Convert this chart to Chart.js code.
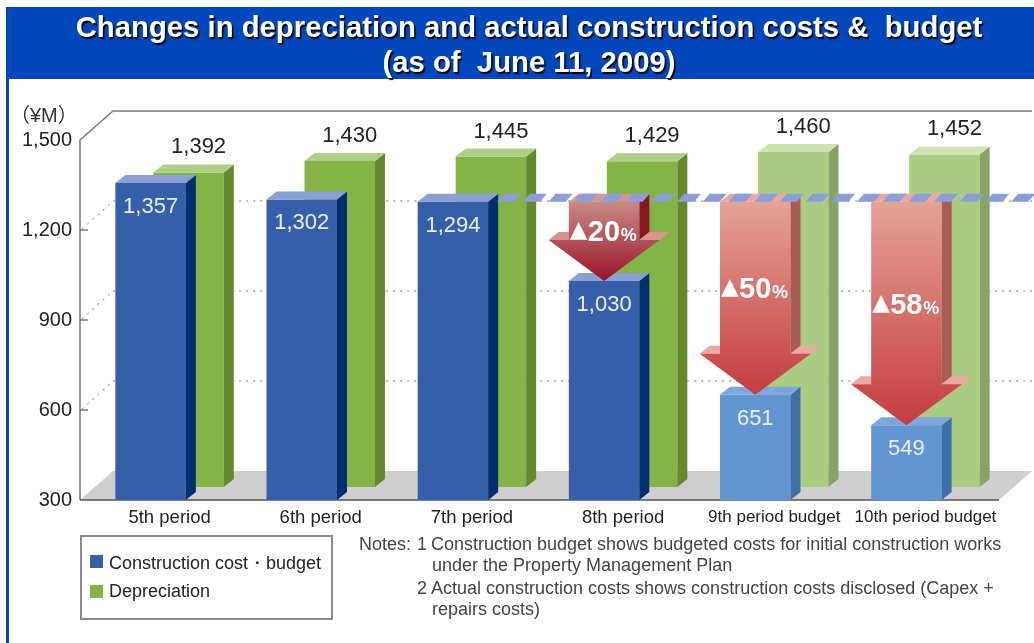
<!DOCTYPE html>
<html>
<head>
<meta charset="utf-8">
<script src="https://cdn.jsdelivr.net/npm/chart.js@4"></script>
<style>
html,body{margin:0;padding:0;background:#fff;overflow:hidden}
#page{position:relative;width:1034px;height:643px;font-family:"Liberation Sans",Arial,sans-serif;filter:blur(.35px)}
#c{position:absolute;left:0;top:0}
#strip{position:absolute;left:6px;top:7px;width:3px;height:636px;background:#0047bb}
#band{position:absolute;left:6px;top:7px;right:0;height:72px;background:#0047bb}
.title{position:absolute;left:0;width:1058px;text-align:center;color:#fff;font-weight:bold;font-size:29.3px;line-height:34px;white-space:pre;text-shadow:1.5px 2px 1px #000}
#unit{position:absolute;left:10px;top:99px;font:20px "Liberation Sans","Noto Sans CJK JP",sans-serif;color:#333;white-space:pre}
#legend{position:absolute;left:80px;top:535px;width:249px;height:81px;border:2px solid #8a8a8a;box-sizing:content-box}
.li{position:absolute;left:8px;font-size:18px;color:#222;white-space:pre}
.sw{position:absolute;left:0;top:4px;width:13px;height:13px}
.li span{position:absolute;left:19px;top:0}
.note{position:absolute;font-size:18px;line-height:20px;color:#444;white-space:pre}
</style>
</head>
<body>
<div id="page">
<div id="strip"></div><div id="band"></div>
<canvas id="c" width="1034" height="643"></canvas>
<div class="title" style="top:10px">Changes in depreciation and actual construction costs &amp;  budget</div>
<div class="title" style="top:45px">(as of  June 11, 2009)</div>
<div id="unit">（¥M）</div>
<div id="legend"></div>
<div class="note" style="left:359px;top:534px">Notes:</div>
<div class="note" style="left:417px;top:534px">1</div>
<div class="note" style="left:431px;top:534px">Construction budget shows budgeted costs for initial construction works</div>
<div class="note" style="left:432px;top:555px">under the Property Management Plan</div>
<div class="note" style="left:417px;top:578px">2</div>
<div class="note" style="left:431px;top:578px">Actual construction costs shows construction costs disclosed (Capex +</div>
<div class="note" style="left:432px;top:599px">repairs costs)</div>
</div>
<script>
const categories = ["5th period","6th period","7th period","8th period","9th period budget","10th period budget"];
const constructionCost = [1357,1302,1294,1030,651,549];
const depreciation = [1392,1430,1445,1429,1460,1452];
const reductionPct = [null,null,null,20,50,58];
const isBudget = [false,false,false,false,true,true];
const referenceCost = 1294;
const yTickStep = 300;
const yMin = 300, yMax = 1500;
const depreciationFloor = 343;
const legendLabels = ["Construction cost・budget","Depreciation"];

const blue = {front:"#3560a9",side:"#022d6e",cap:"#8a9fd2"};
const blueB = {front:"#6296d2",side:"#3d70a9",cap:"#7fa6dd"};
const green = {front:"#84b446",side:"#638a2f",cap:"#aecf87"};
const greenB = {front:"#aacd81",side:"#88a366",cap:"#d0e3b3"};
const DX = 10, DY = 8, BX = 33, BY = 29;

function poly(ctx, pts, fill){
  ctx.beginPath();
  pts.forEach((p,i)=> i? ctx.lineTo(p[0],p[1]) : ctx.moveTo(p[0],p[1]));
  ctx.closePath();
  ctx.fillStyle = fill;
  ctx.fill();
}

const scene = {
  id:"scene",
  beforeDatasetsDraw(chart){
    const ctx = chart.ctx, y = chart.scales.y, yb = y.getPixelForValue(yMin);
    const x0 = 80, x1 = 999;
    ctx.save();
    poly(ctx,[[x0,yb],[x1,yb],[x1+BX,yb-BY],[x0+BX,yb-BY]],"#cfcfcf");
    ctx.strokeStyle="#777"; ctx.lineWidth=1.5;
    ctx.beginPath();
    const top = y.getPixelForValue(yMax);
    ctx.moveTo(x0,yb); ctx.lineTo(x0,top); ctx.lineTo(x0+BX,top-BY); ctx.lineTo(x1+BX,top-BY);
    ctx.stroke();
    ctx.strokeStyle="#555";
    ctx.beginPath(); ctx.moveTo(x0,yb); ctx.lineTo(x1,yb); ctx.stroke();
    y.ticks.forEach(t=>{
      if(t.value===yMin||t.value===yMax) return;
      const py=y.getPixelForValue(t.value);
      ctx.strokeStyle="#555"; ctx.lineWidth=1.2; ctx.setLineDash([]);
      ctx.beginPath(); ctx.moveTo(x0,py); ctx.lineTo(x0+8,py); ctx.stroke();
      ctx.strokeStyle="#777"; ctx.lineWidth=1; ctx.setLineDash([2,5]);
      ctx.beginPath(); ctx.moveTo(x0+2,py-1); ctx.lineTo(x0+BX,py-BY); ctx.lineTo(x1+BX,py-BY); ctx.stroke();
    });
    ctx.restore();
  },
  afterDatasetDraw(chart,args){
    const ctx = chart.ctx, ds = args.index;
    ctx.save();
    args.meta.data.forEach((b,i)=>{
      const c = ds===0 ? (isBudget[i]?blueB:blue) : (isBudget[i]?greenB:green);
      const L=b.x-b.width/2,R=b.x+b.width/2,T=b.y,B=b.base;
      poly(ctx,[[R,T],[R+DX,T-DY],[R+DX,B-DY],[R,B]],c.side);
      poly(ctx,[[L,T],[L+DX,T-DY],[R+DX,T-DY],[R,T]],c.cap);
    });
    ctx.restore();
  },
  afterDatasetsDraw(chart){
    const ctx = chart.ctx, y = chart.scales.y;
    const front = chart.getDatasetMeta(0).data, back = chart.getDatasetMeta(1).data;
    const ry = y.getPixelForValue(referenceCost);
    ctx.save();
    // reduction arrows
    reductionPct.forEach((pct,i)=>{
      if(pct===null) return;
      const b=front[i], L=b.x-b.width/2, R=b.x+b.width/2, tip=b.y, hy=tip-41, hw=55.5;
      const dark=!isBudget[i];
      const g=ctx.createLinearGradient(0,ry,0,tip);
      if(dark){g.addColorStop(0,"#c98a84");g.addColorStop(1,"#991428");}
      else{g.addColorStop(0,"#e5a398");g.addColorStop(1,"#c43c3e");}
      const sideC=dark?"#8a1522":"#aa5b55", capC=dark?"#d9958d":"#eba9a1";
      // shaft side
      poly(ctx,[[R,ry],[R+DX,ry-DY],[R+DX,hy-DY],[R,hy]],sideC);
      // shaft cap
      poly(ctx,[[L,ry],[L+DX,ry-DY],[R+DX,ry-DY],[R,ry]],capC);
      // head caps
      poly(ctx,[[b.x-hw,hy],[b.x-hw+DX,hy-DY],[L,hy-DY],[L,hy]],capC);
      poly(ctx,[[R,hy],[R+DX,hy-DY],[b.x+hw+DX,hy-DY],[b.x+hw,hy]],capC);
      // front
      poly(ctx,[[L,ry],[R,ry],[R,hy],[b.x+hw,hy],[b.x,tip],[b.x-hw,hy],[L,hy],[L,ry]],g);
      // label
      const my=(ry+tip)/2-10;
      ctx.fillStyle="#fff"; ctx.textBaseline="alphabetic"; ctx.textAlign="left";
      ctx.font='23px "DejaVu Sans"';
      ctx.fillText("▲",L+1,my+6);
      ctx.font='bold 29px "Liberation Sans"';
      ctx.fillText(String(pct),L+19,my+10);
      ctx.font='bold 18px "Liberation Sans"';
      ctx.fillText("%",L+52,my+10);
    });
    // reference stripe
    const sx=front[2].x+front[2].width/2+DX-1;
    const step=25.7, w=17, slant=7;
    for(let x=sx; x<chart.width+10; x+=step){
      poly(ctx,[[x,ry],[x+w,ry],[x+w+slant,ry-DY],[x+slant,ry-DY]],"#8a9fd8");
    }
    // value labels
    ctx.font='22px "Liberation Sans"';
    ctx.textAlign="center"; ctx.textBaseline="middle";
    back.forEach((b,i)=>{
      ctx.fillStyle="#222";
      ctx.fillText(depreciation[i].toLocaleString("en-US"),b.x+DX,b.y-25);
    });
    front.forEach((b,i)=>{
      ctx.fillStyle="#eaf0fa";
      ctx.fillText(constructionCost[i].toLocaleString("en-US"),b.x,b.y+24);
    });
    ctx.restore();
  }
};

const chart = new Chart(document.getElementById("c"),{
  type:"bar",
  data:{
    labels:categories,
    datasets:[
      {label:legendLabels[0],data:constructionCost,base:yMin,backgroundColor:isBudget.map(f=>f?blueB.front:blue.front)},
      {label:legendLabels[1],data:depreciation,base:depreciationFloor,backgroundColor:isBudget.map(f=>f?greenB.front:green.front)}
    ]
  },
  options:{
    responsive:false,
    animation:false,
    categoryPercentage:76/151.2,
    barPercentage:70.5/38,
    layout:{padding:{top:140,right:33,left:0,bottom:0}},
    plugins:{legend:{display:false},title:{display:false},tooltip:{enabled:false}},
    scales:{
      x:{
        afterFit(s){s.height=143;},
        grid:{display:false,drawTicks:false},border:{display:false},
        ticks:{
          autoSkip:false,maxRotation:0,padding:7,color:"#222",
          font:c=>({family:'"Liberation Sans"',size:isBudget[c.index]?17:18.5})
        }
      },
      y:{
        min:yMin,max:yMax,
        afterFit(s){s.width=94;},
        grid:{display:false,drawTicks:false},border:{display:false},
        ticks:{stepSize:yTickStep,padding:22,color:"#222",font:{family:'"Liberation Sans"',size:20},
          callback:v=>v.toLocaleString("en-US")}
      }
    }
  },
  plugins:[scene]
});

const lg=document.getElementById("legend");
chart.data.datasets.forEach((d,i)=>{
  const li=document.createElement("div");
  li.className="li"; li.style.top=(i===0?14:44)+"px";
  const sw=document.createElement("div"); sw.className="sw"; sw.style.background=d.backgroundColor[0];
  const t=document.createElement("span"); t.textContent=d.label;
  li.appendChild(sw); li.appendChild(t); lg.appendChild(li);
});
</script>
</body>
</html>
